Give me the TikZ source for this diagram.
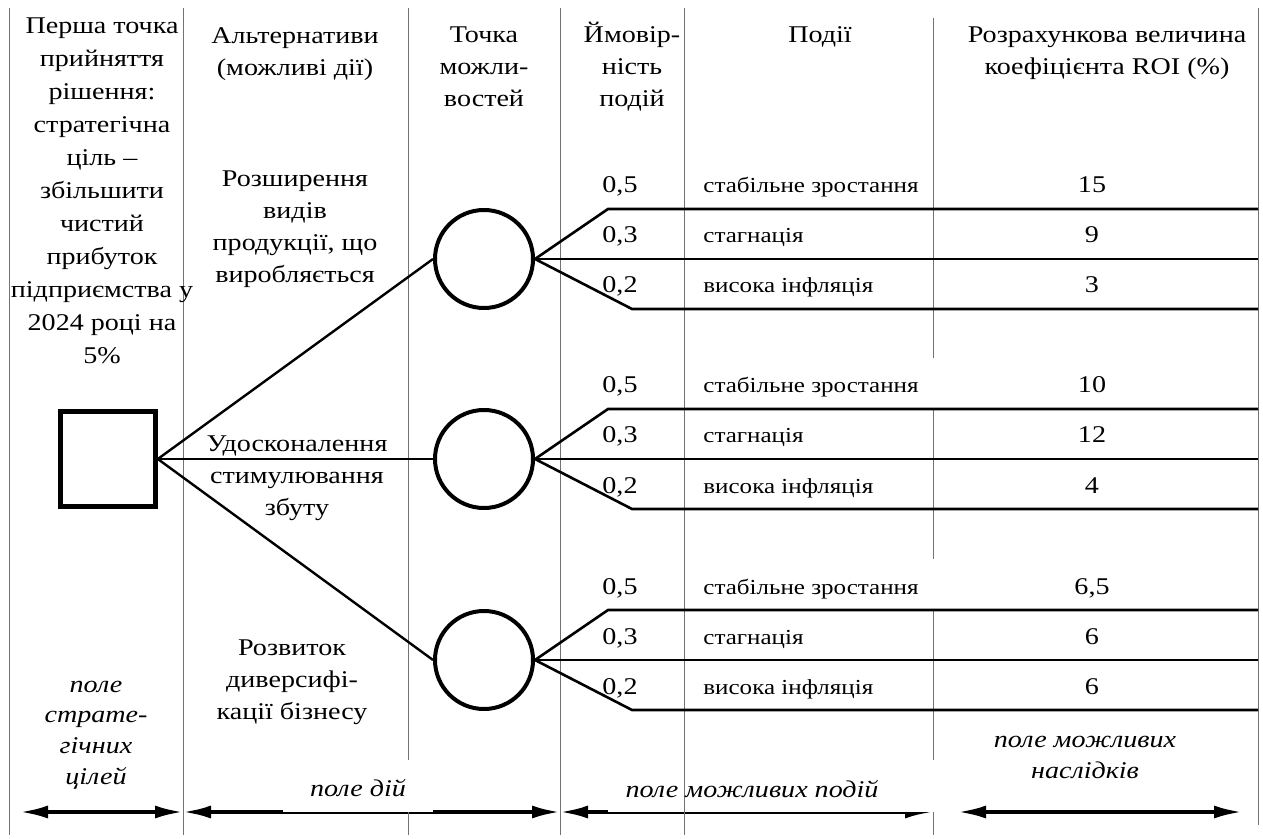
\documentclass[tikz,border=0pt]{standalone}
\usepackage{fontspec}
\setmainfont{Liberation Serif}[FakeStretch=1.17]
\usetikzlibrary{arrows.meta,positioning}

\begin{document}
\begin{tikzpicture}[
  x=0.5pt, y=-0.5pt,
  decision/.style={draw,rectangle,line width=2.3pt,minimum size=47.5pt,inner sep=0pt},
  chance/.style={draw,circle,line width=2pt,minimum size=49pt,inner sep=0pt},
  ]
  \tikzset{%
    colline/.style={draw=black!55,line width=0.5pt},
    link/.style={line width=1.2pt},
    branch/.style={line width=1.3pt},
    field/.style={line width=1.8pt,>={Latex[length=14pt,width=6.5pt]},<->},
    head/.style={align=center,inner sep=0pt,anchor=base,font=\fontsize{12}{16}\selectfont},
    fieldtext/.style={align=center,inner sep=0pt,anchor=base,font=\itshape\fontsize{12}{15.3}\selectfont},
    event/.style={inner sep=0pt,anchor=base west,font=\fontsize{10.7}{13}\selectfont},
    num/.style={inner sep=0pt,anchor=base,font=\fontsize{12}{14}\selectfont},
  }
  \useasboundingbox (0,0) rectangle (1263,839);
  %Field arrows
  \coordinate (f0) at (20,812);
  \coordinate (f1) at (183,812);
  \coordinate (f2) at (560,812);
  \coordinate (f3) at (933,812);
  \coordinate (f4) at (958,812);
  \coordinate (f5) at (1242,812);
  \draw[field] (f0) -- (f1);
  \draw[field] (f1) -- (f2);
  \draw[field] (f2) -- (f3);
  \draw[field] (f4) -- (f5);
  \fill[white] (283,760) rectangle (433,812);
  \fill[white] (608,760) rectangle (940,812);
  %Columns
  \foreach \x in {9,183,560,684}
    \draw[colline] (\x,8) -- (\x,835);
  \draw[colline] (408,8) -- (408,760) (408,812) -- (408,835);
  \draw[colline] (933,18) -- (933,358) (933,408) -- (933,559)
    (933,610) -- (933,760) (933,812) -- (933,835);
  \draw[colline] (1258,8) -- (1258,825);
  %Headers (anchored at the baseline of the last line)
  \node[head,font=\fontsize{12}{16.5}\selectfont] (goal) at (102,364)
    {Перша точка\\прийняття\\рішення:\\стратегічна\\ціль –\\збільшити\\чистий\\прибуток\\підприємства у\\2024 році на\\5\%};
  \node[head] (alt) at (295,76) {Альтернативи\\(можливі дії)};
  \node[head] (pnt) at (484,107) {Точка\\можли-\\востей};
  \node[head] (prob) at (632,107) {Ймовір-\\ність\\подій};
  \node[head] (evt) at (820,43) {Події};
  \node[head] (roi) at (1107,75) {Розрахункова величина\\коефіцієнта ROI (\%)};
  %Alternatives
  \node[head] (alt1) at (295,283) {Розширення\\видів\\продукції, що\\виробляється};
  \node[head] (alt2) at (297,515) {Удосконалення\\стимулювання\\збуту};
  \node[head] (alt3) at (292,719) {Розвиток\\диверсифі-\\кації бізнесу};
  %Tree
  \node[decision] (dec) at (108,459) {};
  \foreach \cy/\ra/\rb/\rc [count=\i] in {259/15/9/3,459/10/12/4,660/{6,5}/6/6}{
    \node[chance] (ch\i) at (484,\cy) {};
    \coordinate (bu\i) at (608,\cy-50);
    \coordinate (bd\i) at (632,\cy+50);
    \coordinate (eu\i) at (1258,\cy-50);
    \coordinate (em\i) at (1258,\cy);
    \coordinate (ed\i) at (1258,\cy+50);
    \draw[link] (dec.east) -- (ch\i.west);
    \draw[branch] (ch\i.east) -- (bu\i) -- (eu\i);
    \draw[branch] (ch\i.east) -- (em\i);
    \draw[branch] (ch\i.east) -- (bd\i) -- (ed\i);
    \node[num] (pa\i) at (620,\cy-66) {0,5};
    \node[num] (pb\i) at (620,\cy-16) {0,3};
    \node[num] (pc\i) at (620,\cy+34) {0,2};
    \node[event] (ea\i) at (703,\cy-66) {стабільне зростання};
    \node[event] (eb\i) at (703,\cy-16) {стагнація};
    \node[event] (ec\i) at (703,\cy+34) {висока інфляція};
    \node[num] (ra\i) at (1092,\cy-66) {\ra};
    \node[num] (rb\i) at (1092,\cy-16) {\rb};
    \node[num] (rc\i) at (1092,\cy+34) {\rc};
  }
  %Fields
  \node[fieldtext] (fgoal) at (96,784) {поле\\страте-\\гічних\\цілей};
  \node[fieldtext] (fact) at (358,796) {поле дій};
  \node[fieldtext] (fevt) at (752,797) {поле можливих подій};
  \node[fieldtext] (fout) at (1085,778) {поле можливих\\наслідків};
\end{tikzpicture}
\end{document}
